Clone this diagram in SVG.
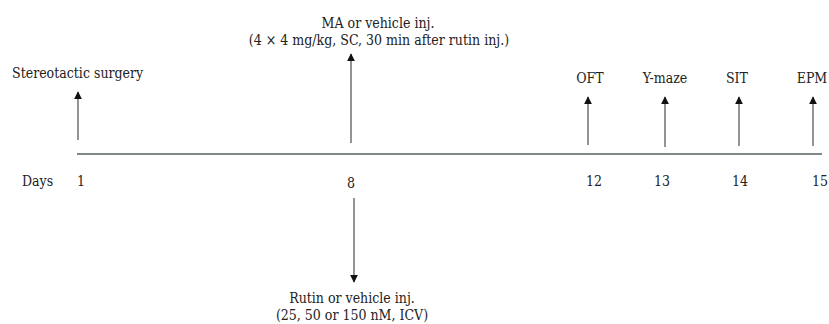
<svg xmlns="http://www.w3.org/2000/svg" width="829" height="324" viewBox="0 0 829 324">
<defs>
<marker id="ah" viewBox="0 0 10 10" refX="9" refY="5" markerWidth="8" markerHeight="8" markerUnits="userSpaceOnUse" orient="auto"><path d="M0,0 L10,5 L0,10 z" fill="#111"/></marker>
<style>
text{font-family:"DejaVu Serif",serif;font-stretch:condensed;font-size:14px;fill:#222}
.c{text-anchor:middle}
.arr{stroke:#666;stroke-width:1.4;fill:none;marker-end:url(#ah)}
.tl{stroke:#7d8888;stroke-width:2;fill:none}
</style>
</defs>
<g id="connectors">
<line class="tl" x1="77" y1="154" x2="822" y2="154"/>
<line class="arr" x1="78" y1="140" x2="78" y2="92"/>
<line class="arr" x1="351" y1="143" x2="351" y2="54"/>
<line class="arr" x1="588" y1="145" x2="588" y2="97"/>
<line class="arr" x1="665" y1="147" x2="665" y2="97"/>
<line class="arr" x1="739" y1="146" x2="739" y2="97"/>
<line class="arr" x1="813" y1="146" x2="813" y2="97"/>
<line class="arr" x1="354" y1="198" x2="354" y2="282"/>
</g>
<g id="surgery"><text x="12" y="78">Stereotactic surgery</text></g>
<g id="ma"><text class="c" x="378" y="28">MA or vehicle inj.</text><text class="c" x="379" y="45">(4 × 4 mg/kg, SC, 30 min after rutin inj.)</text></g>
<g id="oft"><text class="c" x="590" y="83">OFT</text></g>
<g id="ymaze"><text class="c" x="665" y="83">Y-maze</text></g>
<g id="sit"><text class="c" x="737" y="83">SIT</text></g>
<g id="epm"><text class="c" x="812" y="83">EPM</text></g>
<g id="days">
<text x="22" y="186">Days</text>
<text x="77" y="186">1</text>
<text class="c" x="351" y="188">8</text>
<text class="c" x="594" y="186">12</text>
<text class="c" x="662" y="186">13</text>
<text class="c" x="740" y="186">14</text>
<text class="c" x="820" y="186">15</text>
</g>
<g id="rutin"><text class="c" x="352" y="303">Rutin or vehicle inj.</text><text class="c" x="352" y="320">(25, 50 or 150 nM, ICV)</text></g>
</svg>
